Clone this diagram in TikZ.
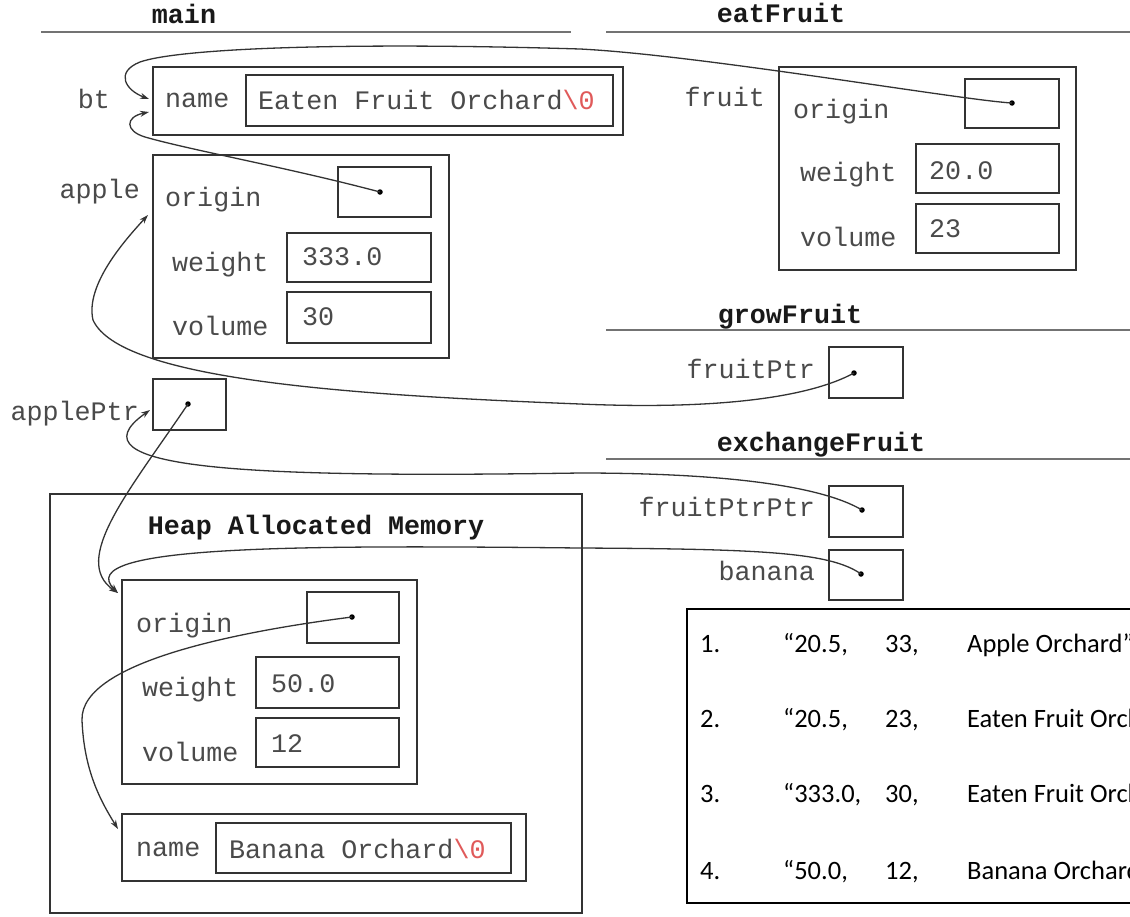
\documentclass[tikz,border=0pt]{standalone}
\usepackage{fontspec}
\setmainfont{Carlito}
\newfontfamily\cour{Liberation Mono}
\usetikzlibrary{arrows.meta,fit}
\definecolor{txt}{HTML}{4A4A4A}
\definecolor{ln}{HTML}{333333}
\definecolor{nul}{HTML}{E05A5A}
\begin{document}
\begin{tikzpicture}[x=1pt,y=-1pt,
  membox/.style={draw=ln, line width=1.5pt, inner sep=0pt},
  lbl/.style={font=\cour\fontsize{26.7}{30}\selectfont, text=txt, inner sep=0pt},
  lblw/.style={lbl, anchor=mid west},
  lble/.style={lbl, anchor=mid east},
  hdr/.style={font=\cour\bfseries\fontsize{26.7}{30}\selectfont, text=black!90, inner sep=0pt, anchor=mid},
  sect/.style={draw=black!55, line width=1.8pt},
  ptr/.style={draw=ln, line width=1.3pt, -{Stealth[length=9pt,width=6pt]}},
  dot/.style={circle, fill=black, inner sep=0pt, minimum size=5.5pt},
  tbl/.style={font=\fontsize{26.5}{30}\selectfont, text=black, inner sep=0pt, anchor=mid west}
]
\useasboundingbox (0,0) rectangle (1130,916);
\clip (0,0) rectangle (1130,916);
\fill[white] (0,0) rectangle (1130,916);

% ---- section headers
\node[hdr] (hmain) at (184,21) {main};
\draw[sect] (41,32) -- (571,32);
\node[hdr] (heat) at (781,20) {eatFruit};
\draw[sect] (606,32) -- (1130,32);
\node[hdr] (hgrow) at (790,321) {growFruit};
\draw[sect] (606,330) -- (1130,330);
\node[hdr] (hexch) at (821,449) {exchangeFruit};
\draw[sect] (606,459) -- (1130,459);

% ---- main: bt
\node[lble] (lbt) at (110,106) {bt};
\node[membox, fit={(153,67) (623,135)}] (btname) {};
\node[membox, fit={(246,75) (613,126)}] (btstr) {};
\node[lblw] (btnamel) at (165,105) {name};
\node[lblw] (btstrt) at (258,107) {Eaten Fruit Orchard{\color{nul}\textbackslash0}};

% ---- main: apple
\node[lble] (lapple) at (140,196) {apple};
\node[membox, fit={(153,155) (449,358)}] (apple) {};
\node[membox, fit={(338,167) (431,217)}] (aorig) {};
\node[membox, fit={(287,233) (431,282)}] (aweight) {};
\node[membox, fit={(287,292) (431,343)}] (avol) {};
\node[lblw] (aorigl) at (165,204) {origin};
\node[lblw] (aweightl) at (172,269) {weight};
\node[lblw] (aweightv) at (302,263) {333.0};
\node[lblw] (avoll) at (172,333) {volume};
\node[lblw] (avolv) at (302,323) {30};

% ---- main: applePtr
\node[lble] (lappleptr) at (139,418) {applePtr};
\node[membox, fit={(153,379) (226,430)}] (appleptr) {};

% ---- eatFruit: fruit
\node[lble] (lfruit) at (765,104) {fruit};
\node[membox, fit={(779,67) (1076,270)}] (fruit) {};
\node[membox, fit={(965,79) (1059,128)}] (forig) {};
\node[membox, fit={(916,144) (1059,193)}] (fweight) {};
\node[membox, fit={(916,204) (1059,253)}] (fvol) {};
\node[lblw] (forigl) at (793,116) {origin};
\node[lblw] (fweightl) at (800,179) {weight};
\node[lblw] (fweightv) at (929,177) {20.0};
\node[lblw] (fvoll) at (800,244) {volume};
\node[lblw] (fvolv) at (929,235) {23};

% ---- growFruit
\node[lble] (lfruitptr) at (815,376) {fruitPtr};
\node[membox, fit={(829,347) (903,398)}] (fruitptr) {};

% ---- exchangeFruit
\node[lble] (lfpp) at (815,514) {fruitPtrPtr};
\node[membox, fit={(829,486) (903,537)}] (fpp) {};
\node[lble] (lbanana) at (815,578) {banana};
\node[membox, fit={(829,550) (903,600)}] (banana) {};

% ---- heap
\node[membox, fit={(50,494) (582,913)}] (heap) {};
\node[hdr] (hheap) at (316,532) {Heap Allocated Memory};
\node[membox, fit={(122,580) (417,784)}] (hs) {};
\node[membox, fit={(307,592) (399,643)}] (horig) {};
\node[membox, fit={(256,657) (399,708)}] (hweight) {};
\node[membox, fit={(256,718) (399,767)}] (hvol) {};
\node[lblw] (horigl) at (136,630) {origin};
\node[lblw] (hweightl) at (142,694) {weight};
\node[lblw] (hweightv) at (271,690) {50.0};
\node[lblw] (hvoll) at (142,759) {volume};
\node[lblw] (hvolv) at (271,750) {12};
\node[membox, fit={(122,814) (526,881)}] (bname) {};
\node[membox, fit={(216,823) (511,873)}] (bstr) {};
\node[lblw] (bnamel) at (136,854) {name};
\node[lblw] (bstrt) at (229,856) {Banana Orchard{\color{nul}\textbackslash0}};

% ---- answer table
\draw[draw=black, line width=1.8pt] (1140,609) -- (687,609) -- (687,903) -- (1140,903);
\node[tbl] (r1a) at (700,650) {1.};
\node[tbl] (r1b) at (783,650) {“20.5,};
\node[tbl] (r1c) at (885,650) {33,};
\node[tbl] (r1d) at (967,650) {Apple Orchard”};
\node[tbl] (r2a) at (700,725) {2.};
\node[tbl] (r2b) at (783,725) {“20.5,};
\node[tbl] (r2c) at (885,725) {23,};
\node[tbl] (r2d) at (967,725) {Eaten Fruit Orchard”};
\node[tbl] (r3a) at (700,800) {3.};
\node[tbl] (r3b) at (783,800) {“333.0,};
\node[tbl] (r3c) at (885,800) {30,};
\node[tbl] (r3d) at (967,800) {Eaten Fruit Orchard”};
\node[tbl] (r4a) at (700,877) {4.};
\node[tbl] (r4b) at (783,877) {“50.0,};
\node[tbl] (r4c) at (885,877) {12,};
\node[tbl] (r4d) at (967,877) {Banana Orchard”};

% ---- pointer dots
\node[dot] (dfo) at (1012,103) {};
\node[dot] (dao) at (380,192) {};
\node[dot] (dfp) at (854,373) {};
\node[dot] (dfpp) at (862,510) {};
\node[dot] (dban) at (861,574) {};
\node[dot] (dap) at (188,404) {};
\node[dot] (dho) at (352,617) {};

% ---- arrow targets
\coordinate (t1) at (149,99);
\coordinate (t2) at (149,112);
\coordinate (t3) at (148,215);
\coordinate (t4) at (150,410);
\coordinate (t5) at (118,593);
\coordinate (t6) at (118,829);

% ---- connectors
\draw[ptr] (dfo.center) .. controls (960,100) and (700,55) .. (580,49)
  .. controls (350,42) and (180,48) .. (140,62)
  .. controls (115,72) and (125,90) .. (t1);
\draw[ptr] (dao.center) .. controls (290,168) and (190,150) .. (145,137)
  .. controls (125,131) and (125,117) .. (t2);
\draw[ptr] (dfp.center) .. controls (810,397) and (720,410) .. (580,404)
  .. controls (350,395) and (120,380) .. (93,320)
  .. controls (85,285) and (125,240) .. (t3);
\draw[ptr] (dfpp.center) .. controls (820,485) and (720,473) .. (580,473)
  .. controls (250,478) and (65,470) .. (t4);
\draw[ptr] (dap.center) .. controls (130,490) and (70,560) .. (t5);
\draw[ptr] (dban.center) .. controls (830,552) and (760,549) .. (580,548)
  .. controls (300,545) and (70,545) .. (t5);
\draw[ptr] (dho.center) .. controls (250,630) and (80,660) .. (82,720)
  .. controls (84,770) and (100,800) .. (t6);
\end{tikzpicture}
\end{document}
